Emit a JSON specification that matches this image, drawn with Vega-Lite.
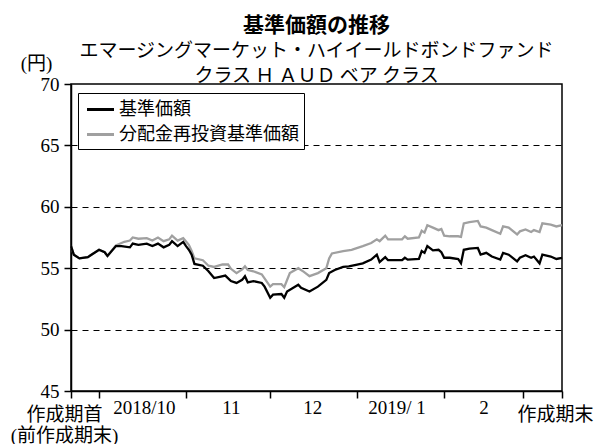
{
  "$schema": "https://vega.github.io/schema/vega-lite/v6.json",
  "width": 491,
  "height": 307,
  "autosize": {"type": "none"},
  "padding": {"left": 71, "top": 84, "right": 39, "bottom": 53},
  "background": "white",
  "config": {
    "view": {"stroke": "black", "strokeWidth": 1.5},
    "font": "Noto Sans CJK JP"
  },
  "title": {
    "text": "基準価額の推移",
    "subtitle": ["エマージングマーケット・ハイイールドボンドファンド", "クラス Ｈ ＡＵＤ ベア クラス"],
    "font": "Noto Sans CJK JP",
    "fontSize": 21,
    "fontWeight": "bold",
    "color": "black",
    "subtitleFont": "Noto Sans CJK JP",
    "subtitleFontSize": 19,
    "subtitleColor": "black",
    "subtitleLineHeight": 25,
    "subtitlePadding": 6,
    "anchor": "middle",
    "offset": -32
  },
  "data": {
    "values": [
      {"d": "2018-09-21", "s": "分配金再投資基準価額", "v": 56.8},
      {"d": "2018-09-22", "s": "分配金再投資基準価額", "v": 56.1},
      {"d": "2018-09-24", "s": "分配金再投資基準価額", "v": 55.8},
      {"d": "2018-09-27", "s": "分配金再投資基準価額", "v": 55.9},
      {"d": "2018-09-28", "s": "分配金再投資基準価額", "v": 56.05},
      {"d": "2018-10-01", "s": "分配金再投資基準価額", "v": 56.5},
      {"d": "2018-10-03", "s": "分配金再投資基準価額", "v": 56.3},
      {"d": "2018-10-04", "s": "分配金再投資基準価額", "v": 56.0},
      {"d": "2018-10-07", "s": "分配金再投資基準価額", "v": 56.85},
      {"d": "2018-10-10", "s": "分配金再投資基準価額", "v": 57.15},
      {"d": "2018-10-12", "s": "分配金再投資基準価額", "v": 57.25},
      {"d": "2018-10-13", "s": "分配金再投資基準価額", "v": 57.5},
      {"d": "2018-10-15", "s": "分配金再投資基準価額", "v": 57.4},
      {"d": "2018-10-18", "s": "分配金再投資基準価額", "v": 57.45},
      {"d": "2018-10-20", "s": "分配金再投資基準価額", "v": 57.25},
      {"d": "2018-10-22", "s": "分配金再投資基準価額", "v": 57.5},
      {"d": "2018-10-24", "s": "分配金再投資基準価額", "v": 57.2},
      {"d": "2018-10-26", "s": "分配金再投資基準価額", "v": 57.35},
      {"d": "2018-10-27", "s": "分配金再投資基準価額", "v": 57.65},
      {"d": "2018-10-29", "s": "分配金再投資基準価額", "v": 57.25},
      {"d": "2018-10-31", "s": "分配金再投資基準価額", "v": 57.45},
      {"d": "2018-11-02", "s": "分配金再投資基準価額", "v": 56.9},
      {"d": "2018-11-03", "s": "分配金再投資基準価額", "v": 56.4},
      {"d": "2018-11-04", "s": "分配金再投資基準価額", "v": 55.8},
      {"d": "2018-11-07", "s": "分配金再投資基準価額", "v": 55.65},
      {"d": "2018-11-09", "s": "分配金再投資基準価額", "v": 55.2},
      {"d": "2018-11-11", "s": "分配金再投資基準価額", "v": 55.1},
      {"d": "2018-11-14", "s": "分配金再投資基準価額", "v": 55.3},
      {"d": "2018-11-16", "s": "分配金再投資基準価額", "v": 55.3},
      {"d": "2018-11-17", "s": "分配金再投資基準価額", "v": 54.95},
      {"d": "2018-11-19", "s": "分配金再投資基準価額", "v": 54.6},
      {"d": "2018-11-21", "s": "分配金再投資基準価額", "v": 54.9},
      {"d": "2018-11-22", "s": "分配金再投資基準価額", "v": 55.15},
      {"d": "2018-11-23", "s": "分配金再投資基準価額", "v": 54.85},
      {"d": "2018-11-25", "s": "分配金再投資基準価額", "v": 54.75},
      {"d": "2018-11-28", "s": "分配金再投資基準価額", "v": 54.5},
      {"d": "2018-12-01", "s": "分配金再投資基準価額", "v": 53.5},
      {"d": "2018-12-02", "s": "分配金再投資基準価額", "v": 53.7},
      {"d": "2018-12-05", "s": "分配金再投資基準価額", "v": 53.7},
      {"d": "2018-12-06", "s": "分配金再投資基準価額", "v": 53.45},
      {"d": "2018-12-08", "s": "分配金再投資基準価額", "v": 54.6},
      {"d": "2018-12-11", "s": "分配金再投資基準価額", "v": 55.0},
      {"d": "2018-12-13", "s": "分配金再投資基準価額", "v": 54.7},
      {"d": "2018-12-15", "s": "分配金再投資基準価額", "v": 54.35},
      {"d": "2018-12-18", "s": "分配金再投資基準価額", "v": 54.6},
      {"d": "2018-12-21", "s": "分配金再投資基準価額", "v": 55.0},
      {"d": "2018-12-22", "s": "分配金再投資基準価額", "v": 55.8},
      {"d": "2018-12-23", "s": "分配金再投資基準価額", "v": 56.2},
      {"d": "2018-12-27", "s": "分配金再投資基準価額", "v": 56.4},
      {"d": "2018-12-30", "s": "分配金再投資基準価額", "v": 56.5},
      {"d": "2019-01-03", "s": "分配金再投資基準価額", "v": 56.8},
      {"d": "2019-01-06", "s": "分配金再投資基準価額", "v": 57.05},
      {"d": "2019-01-08", "s": "分配金再投資基準価額", "v": 57.35},
      {"d": "2019-01-09", "s": "分配金再投資基準価額", "v": 57.2},
      {"d": "2019-01-11", "s": "分配金再投資基準価額", "v": 57.65},
      {"d": "2019-01-12", "s": "分配金再投資基準価額", "v": 57.35},
      {"d": "2019-01-17", "s": "分配金再投資基準価額", "v": 57.35},
      {"d": "2019-01-18", "s": "分配金再投資基準価額", "v": 57.6},
      {"d": "2019-01-19", "s": "分配金再投資基準価額", "v": 57.4},
      {"d": "2019-01-23", "s": "分配金再投資基準価額", "v": 57.5},
      {"d": "2019-01-24", "s": "分配金再投資基準価額", "v": 58.05},
      {"d": "2019-01-25", "s": "分配金再投資基準価額", "v": 57.9},
      {"d": "2019-01-26", "s": "分配金再投資基準価額", "v": 58.5},
      {"d": "2019-01-28", "s": "分配金再投資基準価額", "v": 58.3},
      {"d": "2019-01-30", "s": "分配金再投資基準価額", "v": 58.1},
      {"d": "2019-01-31", "s": "分配金再投資基準価額", "v": 58.2},
      {"d": "2019-02-01", "s": "分配金再投資基準価額", "v": 57.65},
      {"d": "2019-02-03", "s": "分配金再投資基準価額", "v": 57.6},
      {"d": "2019-02-06", "s": "分配金再投資基準価額", "v": 57.6},
      {"d": "2019-02-07", "s": "分配金再投資基準価額", "v": 57.55},
      {"d": "2019-02-08", "s": "分配金再投資基準価額", "v": 58.65},
      {"d": "2019-02-10", "s": "分配金再投資基準価額", "v": 58.75},
      {"d": "2019-02-13", "s": "分配金再投資基準価額", "v": 58.85},
      {"d": "2019-02-14", "s": "分配金再投資基準価額", "v": 58.4},
      {"d": "2019-02-16", "s": "分配金再投資基準価額", "v": 58.3},
      {"d": "2019-02-18", "s": "分配金再投資基準価額", "v": 58.1},
      {"d": "2019-02-21", "s": "分配金再投資基準価額", "v": 57.8},
      {"d": "2019-02-22", "s": "分配金再投資基準価額", "v": 58.4},
      {"d": "2019-02-24", "s": "分配金再投資基準価額", "v": 58.3},
      {"d": "2019-02-27", "s": "分配金再投資基準価額", "v": 57.75},
      {"d": "2019-02-28", "s": "分配金再投資基準価額", "v": 58.0},
      {"d": "2019-03-02", "s": "分配金再投資基準価額", "v": 58.15},
      {"d": "2019-03-04", "s": "分配金再投資基準価額", "v": 57.95},
      {"d": "2019-03-05", "s": "分配金再投資基準価額", "v": 58.1},
      {"d": "2019-03-07", "s": "分配金再投資基準価額", "v": 57.95},
      {"d": "2019-03-08", "s": "分配金再投資基準価額", "v": 58.65},
      {"d": "2019-03-11", "s": "分配金再投資基準価額", "v": 58.55},
      {"d": "2019-03-13", "s": "分配金再投資基準価額", "v": 58.4},
      {"d": "2019-03-15", "s": "分配金再投資基準価額", "v": 58.5},

      {"d": "2018-09-21", "s": "基準価額", "v": 56.8},
      {"d": "2018-09-22", "s": "基準価額", "v": 56.1},
      {"d": "2018-09-24", "s": "基準価額", "v": 55.8},
      {"d": "2018-09-27", "s": "基準価額", "v": 55.9},
      {"d": "2018-09-28", "s": "基準価額", "v": 56.05},
      {"d": "2018-10-01", "s": "基準価額", "v": 56.5},
      {"d": "2018-10-03", "s": "基準価額", "v": 56.3},
      {"d": "2018-10-04", "s": "基準価額", "v": 56.0},
      {"d": "2018-10-07", "s": "基準価額", "v": 56.8},
      {"d": "2018-10-09", "s": "基準価額", "v": 56.8},
      {"d": "2018-10-12", "s": "基準価額", "v": 56.7},
      {"d": "2018-10-13", "s": "基準価額", "v": 57.0},
      {"d": "2018-10-15", "s": "基準価額", "v": 56.9},
      {"d": "2018-10-18", "s": "基準価額", "v": 57.0},
      {"d": "2018-10-20", "s": "基準価額", "v": 56.8},
      {"d": "2018-10-22", "s": "基準価額", "v": 57.0},
      {"d": "2018-10-24", "s": "基準価額", "v": 56.7},
      {"d": "2018-10-26", "s": "基準価額", "v": 56.9},
      {"d": "2018-10-27", "s": "基準価額", "v": 57.2},
      {"d": "2018-10-29", "s": "基準価額", "v": 56.8},
      {"d": "2018-10-31", "s": "基準価額", "v": 57.15},
      {"d": "2018-11-01", "s": "基準価額", "v": 56.8},
      {"d": "2018-11-02", "s": "基準価額", "v": 56.5},
      {"d": "2018-11-03", "s": "基準価額", "v": 56.1},
      {"d": "2018-11-04", "s": "基準価額", "v": 55.35},
      {"d": "2018-11-07", "s": "基準価額", "v": 55.2},
      {"d": "2018-11-09", "s": "基準価額", "v": 54.75},
      {"d": "2018-11-11", "s": "基準価額", "v": 54.2},
      {"d": "2018-11-13", "s": "基準価額", "v": 54.3},
      {"d": "2018-11-15", "s": "基準価額", "v": 54.4},
      {"d": "2018-11-17", "s": "基準価額", "v": 53.95},
      {"d": "2018-11-19", "s": "基準価額", "v": 53.8},
      {"d": "2018-11-21", "s": "基準価額", "v": 54.05},
      {"d": "2018-11-22", "s": "基準価額", "v": 54.35},
      {"d": "2018-11-23", "s": "基準価額", "v": 53.85},
      {"d": "2018-11-25", "s": "基準価額", "v": 53.95},
      {"d": "2018-11-28", "s": "基準価額", "v": 53.8},
      {"d": "2018-11-29", "s": "基準価額", "v": 53.5},
      {"d": "2018-12-01", "s": "基準価額", "v": 52.6},
      {"d": "2018-12-02", "s": "基準価額", "v": 52.85},
      {"d": "2018-12-05", "s": "基準価額", "v": 52.9},
      {"d": "2018-12-06", "s": "基準価額", "v": 52.6},
      {"d": "2018-12-07", "s": "基準価額", "v": 53.1},
      {"d": "2018-12-11", "s": "基準価額", "v": 53.65},
      {"d": "2018-12-12", "s": "基準価額", "v": 53.4},
      {"d": "2018-12-15", "s": "基準価額", "v": 53.1},
      {"d": "2018-12-18", "s": "基準価額", "v": 53.5},
      {"d": "2018-12-21", "s": "基準価額", "v": 54.05},
      {"d": "2018-12-22", "s": "基準価額", "v": 54.6},
      {"d": "2018-12-24", "s": "基準価額", "v": 54.85},
      {"d": "2018-12-27", "s": "基準価額", "v": 55.1},
      {"d": "2018-12-29", "s": "基準価額", "v": 55.15},
      {"d": "2019-01-01", "s": "基準価額", "v": 55.3},
      {"d": "2019-01-03", "s": "基準価額", "v": 55.4},
      {"d": "2019-01-06", "s": "基準価額", "v": 55.7},
      {"d": "2019-01-08", "s": "基準価額", "v": 56.1},
      {"d": "2019-01-09", "s": "基準価額", "v": 55.5},
      {"d": "2019-01-11", "s": "基準価額", "v": 55.9},
      {"d": "2019-01-12", "s": "基準価額", "v": 55.65},
      {"d": "2019-01-17", "s": "基準価額", "v": 55.65},
      {"d": "2019-01-18", "s": "基準価額", "v": 55.85},
      {"d": "2019-01-19", "s": "基準価額", "v": 55.7},
      {"d": "2019-01-23", "s": "基準価額", "v": 55.75},
      {"d": "2019-01-24", "s": "基準価額", "v": 56.4},
      {"d": "2019-01-25", "s": "基準価額", "v": 56.25},
      {"d": "2019-01-26", "s": "基準価額", "v": 56.8},
      {"d": "2019-01-28", "s": "基準価額", "v": 56.45},
      {"d": "2019-01-30", "s": "基準価額", "v": 56.5},
      {"d": "2019-01-31", "s": "基準価額", "v": 56.3},
      {"d": "2019-02-01", "s": "基準価額", "v": 55.85},
      {"d": "2019-02-03", "s": "基準価額", "v": 55.85},
      {"d": "2019-02-06", "s": "基準価額", "v": 55.75},
      {"d": "2019-02-07", "s": "基準価額", "v": 55.4},
      {"d": "2019-02-08", "s": "基準価額", "v": 56.5},
      {"d": "2019-02-10", "s": "基準価額", "v": 56.6},
      {"d": "2019-02-13", "s": "基準価額", "v": 56.65},
      {"d": "2019-02-14", "s": "基準価額", "v": 56.1},
      {"d": "2019-02-16", "s": "基準価額", "v": 56.25},
      {"d": "2019-02-18", "s": "基準価額", "v": 55.95},
      {"d": "2019-02-21", "s": "基準価額", "v": 55.7},
      {"d": "2019-02-22", "s": "基準価額", "v": 56.25},
      {"d": "2019-02-24", "s": "基準価額", "v": 56.1},
      {"d": "2019-02-27", "s": "基準価額", "v": 55.55},
      {"d": "2019-02-28", "s": "基準価額", "v": 55.85},
      {"d": "2019-03-02", "s": "基準価額", "v": 56.05},
      {"d": "2019-03-04", "s": "基準価額", "v": 55.85},
      {"d": "2019-03-05", "s": "基準価額", "v": 55.95},
      {"d": "2019-03-07", "s": "基準価額", "v": 55.4},
      {"d": "2019-03-08", "s": "基準価額", "v": 56.1},
      {"d": "2019-03-11", "s": "基準価額", "v": 55.95},
      {"d": "2019-03-13", "s": "基準価額", "v": 55.75},
      {"d": "2019-03-15", "s": "基準価額", "v": 55.85}
    ]
  },
  "encoding": {
    "x": {
      "field": "d",
      "type": "temporal",
      "scale": {
        "type": "utc",
        "domain": [
          {"year": 2018, "month": 9, "date": 21, "utc": true},
          {"year": 2019, "month": 3, "date": 15, "utc": true}
        ]
      },
      "axis": {
        "title": null,
        "orient": "bottom",
        "grid": false,
        "domainColor": "black",
        "domainWidth": 1.5,
        "tickColor": "black",
        "tickWidth": 1.5,
        "tickSize": {"condition": {"test": "utcdate(datum.value) != 1 && utcmonth(datum.value) != 8 && utcmonth(datum.value) != 2", "value": 0}, "value": 7},
        "values": [
          {"year": 2018, "month": 9, "date": 21, "utc": true},
          {"year": 2018, "month": 10, "date": 1, "utc": true},
          {"year": 2018, "month": 10, "date": 17, "utc": true},
          {"year": 2018, "month": 11, "date": 1, "utc": true},
          {"year": 2018, "month": 11, "date": 17, "utc": true},
          {"year": 2018, "month": 12, "date": 1, "utc": true},
          {"year": 2018, "month": 12, "date": 16, "utc": true},
          {"year": 2019, "month": 1, "date": 1, "utc": true},
          {"year": 2019, "month": 1, "date": 15, "utc": true},
          {"year": 2019, "month": 2, "date": 1, "utc": true},
          {"year": 2019, "month": 2, "date": 15, "utc": true},
          {"year": 2019, "month": 3, "date": 1, "utc": true},
          {"year": 2019, "month": 3, "date": 15, "utc": true}
        ],
        "labelExpr": "utcmonth(datum.value) == 8 ? ['作成期首', '(前作成期末)'] : (utcmonth(datum.value) == 2 && utcdate(datum.value) == 15) ? '作成期末' : utcdate(datum.value) == 1 ? '' : utcmonth(datum.value) == 9 ? '2018/10' : utcmonth(datum.value) == 10 ? '11' : utcmonth(datum.value) == 11 ? '12' : utcmonth(datum.value) == 0 ? '2019/ 1' : '2'",
        "labelOffset": {"condition": {"test": "utcmonth(datum.value) == 8 || (utcmonth(datum.value) == 2 && utcdate(datum.value) == 15)", "value": -7}, "value": 0},
        "labelFont": "Liberation Serif, Noto Sans CJK JP",
        "labelFontSize": 19,
        "labelColor": "black",
        "labelAlign": "center",
        "labelBaseline": "top",
        "labelPadding": 7,
        "labelLineHeight": 21,
        "labelOverlap": false,
        "labelFlush": false,
        "labelBound": false
      }
    },
    "y": {
      "field": "v",
      "type": "quantitative",
      "scale": {"domain": [45, 70], "nice": false, "zero": false},
      "axis": {
        "title": "(円)",
        "titleAngle": 0,
        "titleX": -35,
        "titleY": -21,
        "titleAlign": "center",
        "titleBaseline": "middle",
        "titleFont": "Liberation Serif, Noto Sans CJK JP",
        "titleFontSize": 19,
        "titleFontWeight": "normal",
        "titleColor": "black",
        "values": [45, 50, 55, 60, 65, 70],
        "grid": true,
        "gridColor": "black",
        "gridWidth": 1,
        "gridDash": [6, 5],
        "gridOpacity": {"condition": {"test": "datum.value == 45 || datum.value == 70", "value": 0}, "value": 1},
        "domainColor": "black",
        "domainWidth": 1.5,
        "tickColor": "black",
        "tickWidth": 1.5,
        "tickSize": 7,
        "labelFont": "Liberation Serif, Noto Sans CJK JP",
        "labelFontSize": 19,
        "labelColor": "black",
        "labelPadding": 5,
        "labelFlush": false,
        "labelBound": false
      }
    },
    "color": {
      "field": "s",
      "type": "nominal",
      "scale": {"domain": ["基準価額", "分配金再投資基準価額"], "range": ["#000000", "#a0a0a0"]},
      "legend": {
        "title": null,
        "orient": "none",
        "legendX": 7,
        "legendY": 9,
        "direction": "vertical",
        "symbolType": "M-1.35,0H1.35",
        "symbolSize": 400,
        "symbolStrokeWidth": 3,
        "symbolOffset": 6,
        "labelFont": "Noto Sans CJK JP",
        "labelFontSize": 18,
        "labelColor": "black",
        "labelOffset": 7,
        "labelLimit": 300,
        "rowPadding": 4,
        "padding": 5,
        "fillColor": "white",
        "strokeColor": "black",
        "cornerRadius": 0
      }
    }
  },
  "layer": [
    {
      "transform": [{"filter": "datum.s == '分配金再投資基準価額'"}],
      "mark": {"type": "line", "strokeWidth": 2.3, "interpolate": "linear"}
    },
    {
      "transform": [{"filter": "datum.s == '基準価額'"}],
      "mark": {"type": "line", "strokeWidth": 2.3, "interpolate": "linear"}
    }
  ]
}
